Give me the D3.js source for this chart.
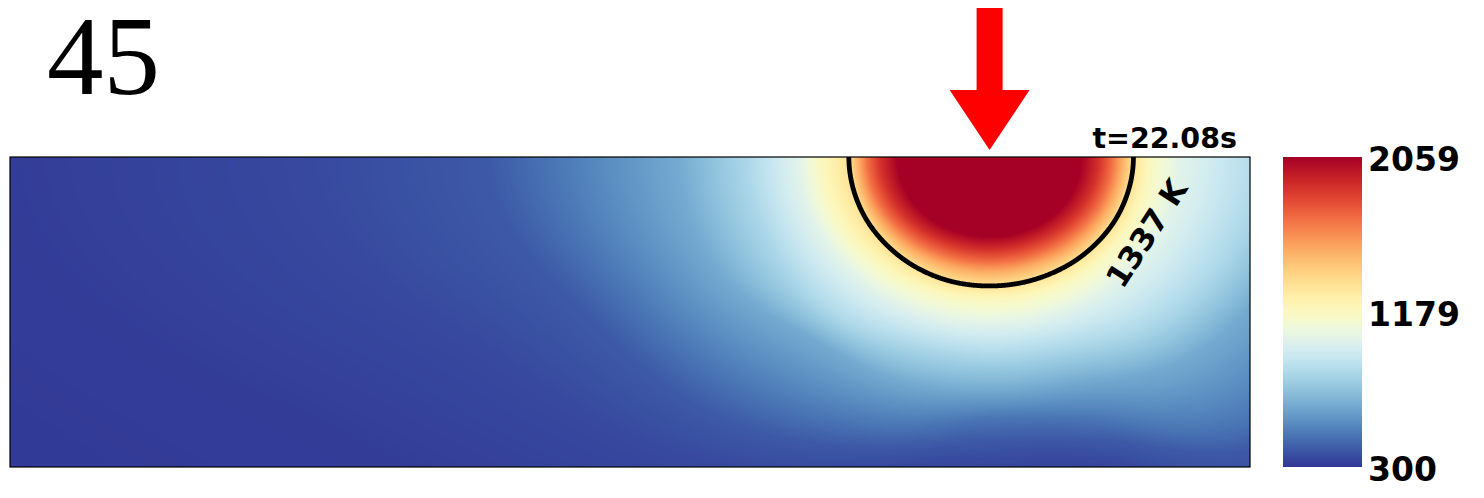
<!DOCTYPE html>
<html><head><meta charset="utf-8">
<script src="https://cdn.jsdelivr.net/npm/d3@7"></script>
<style>html,body{margin:0;padding:0;background:#fff;} svg{display:block}</style>
</head><body><svg id="chart" width="1484" height="498"></svg>
<script>
// ---------------- data ----------------
const frameLabel = "45";
const timeLabel = "t=22.08s";
const contourLevel = 1337;
const contourLabel = "1337 K";
const tempMin = 300, tempMax = 2059;
const colorbarTicks = [300, 1179, 2059];
const colorbarTickLabels = ["300", "1179", "2059"];
const domainX = [0, 20];   // mm
const domainY = [0, 5];    // mm (depth)
const sourceX = 15.8;      // mm, heat source position
// temperature levels (K) and the distance (mm) from the source where each is reached,
// in nine directions (deg from +x, measured downward)
const levels     = [2059, 1883, 1707, 1531, 1337, 1180, 1030, 830, 650, 476, 400, 350, 320, 305];
const angles     = [0, 22.5, 45, 67.5, 90, 112.5, 135, 157.5, 180];
const radius0    = [1.48, 1.77, 1.97, 2.13, 2.32, 2.60, 3.05, 4.44, 5.32, 6.77, 7.74, 9.68, 12.9, 16.0];
const radius22   = [1.45, 1.72, 1.92, 2.08, 2.28, 2.55, 2.99, 4.17, 4.97, 6.40, 7.20, 8.80, 11.5, 15.0];
const radius45   = [1.38, 1.62, 1.81, 1.98, 2.19, 2.44, 2.85, 3.80, 4.55, 6.00, 6.50, 7.50, 9.50, 13.0];
const radius67   = [1.31, 1.53, 1.72, 1.88, 2.11, 2.35, 2.73, 3.33, 3.91, 4.60, 4.95, 5.35, 5.80, 6.60];
const radius90   = [1.29, 1.50, 1.69, 1.85, 2.08, 2.31, 2.68, 3.21, 3.76, 4.23, 4.56, 4.90, 5.30, 6.00];
const radius112  = [1.31, 1.53, 1.72, 1.88, 2.11, 2.36, 2.73, 3.29, 3.89, 4.70, 5.05, 5.45, 5.95, 6.80];
const radius135  = [1.38, 1.62, 1.81, 1.97, 2.17, 2.49, 2.85, 3.60, 4.10, 5.40, 6.00, 6.90, 8.50, 12.0];
const radius157  = [1.45, 1.72, 1.92, 2.07, 2.24, 2.65, 2.99, 3.79, 4.74, 6.20, 6.90, 8.60, 11.5, 17.0];
const radius180  = [1.48, 1.77, 1.97, 2.11, 2.27, 2.73, 3.06, 3.92, 5.00, 7.08, 8.06, 11.13, 15.8, 21.0];
const labelPos = [18.33, 1.23];  // mm
const labelAngle = -57;

// ---------------- layout ----------------
const svg = d3.select("#chart");
const plot = {left: 10, top: 157, width: 1240, height: 310};
const xS = d3.scaleLinear(domainX, [plot.left, plot.left + plot.width]);
const yS = d3.scaleLinear(domainY, [plot.top, plot.top + plot.height]);
const color = d3.scaleSequential(t => d3.interpolateRdYlBu(1 - t)).domain([tempMin, tempMax]);

// colour lookup table
const LUT_N = 2048;
const lut = d3.range(LUT_N).map(k => d3.rgb(color(tempMin + k / (LUT_N - 1) * (tempMax - tempMin))));
const lutIndex = d3.scaleLinear([tempMin, tempMax], [0, LUT_N - 1]).clamp(true);

// radius of every level as smooth function of direction (Catmull-Rom, mirrored at the surface)
const radiusSets = [radius0, radius22, radius45, radius67, radius90, radius112, radius135, radius157, radius180];
const angleStep = angles[1] - angles[0];
function radiusAt(i, th) {
  const n = angles.length;
  const get = j => radiusSets[j < 0 ? -j : (j > n - 1 ? 2 * (n - 1) - j : j)][i];
  const s = Math.min(n - 2, Math.floor(th / angleStep));
  const t = th / angleStep - s;
  const p0 = get(s - 1), p1 = get(s), p2 = get(s + 1), p3 = get(s + 2);
  return 0.5 * (2 * p1 + (-p0 + p2) * t + (2 * p0 - 5 * p1 + 4 * p2 - p3) * t * t + (-p0 + 3 * p1 - 3 * p2 + p3) * t * t * t);
}
const STEP = 4; // per degree
const dirScales = d3.range(0, 180 * STEP + 1).map(k => {
  const th = k / STEP;
  const radii = levels.map((_, i) => radiusAt(i, th));
  for (let i = 1; i < radii.length; i++) radii[i] = Math.max(radii[i], radii[i - 1] + 1e-4);
  return d3.scaleLinear(radii, levels).clamp(true);
});
function tempAt(X, Y) {
  const dx = X - sourceX;
  const r = Math.hypot(dx, Y);
  const th = Math.atan2(Y, dx) * 180 / Math.PI;
  const k = Math.max(0, Math.min(180 * STEP, Math.round(th * STEP)));
  return dirScales[k](r);
}

// ---------------- field ----------------
const cv = document.createElement("canvas");
cv.width = plot.width; cv.height = plot.height;
const ctx = cv.getContext("2d");
const img = ctx.createImageData(plot.width, plot.height);
for (let py = 0; py < plot.height; py++) {
  const Y = yS.invert(plot.top + py + 0.5);
  for (let px = 0; px < plot.width; px++) {
    const X = xS.invert(plot.left + px + 0.5);
    const c = lut[Math.round(lutIndex(tempAt(X, Y)))];
    const o = (py * plot.width + px) * 4;
    img.data[o] = c.r; img.data[o + 1] = c.g; img.data[o + 2] = c.b; img.data[o + 3] = 255;
  }
}
ctx.putImageData(img, 0, 0);
svg.append("image").attr("x", plot.left).attr("y", plot.top)
  .attr("width", plot.width).attr("height", plot.height)
  .attr("preserveAspectRatio", "none")
  .attr("href", cv.toDataURL());

svg.append("clipPath").attr("id", "clip").append("rect")
  .attr("x", plot.left).attr("y", plot.top).attr("width", plot.width).attr("height", plot.height);

// contour 1337 K
const contourPts = d3.range(0, 180 * STEP + 1).map(k => {
  const th = k / STEP, r = dirScales[k].invert(contourLevel);
  const a = th * Math.PI / 180;
  return [sourceX + r * Math.cos(a), r * Math.sin(a)];
});
svg.append("path").attr("clip-path", "url(#clip)")
  .attr("d", d3.line().x(d => xS(d[0])).y(d => yS(d[1]))(contourPts))
  .attr("fill", "none").attr("stroke", "#000").attr("stroke-width", 4.8);

svg.append("text")
  .attr("transform", `translate(${xS(labelPos[0])},${yS(labelPos[1])}) rotate(${labelAngle})`)
  .attr("text-anchor", "middle").attr("dominant-baseline", "central")
  .attr("font-family", "DejaVu Sans").attr("font-weight", "bold").attr("font-size", 31)
  .text(contourLabel);

// frame
svg.append("rect").attr("x", plot.left).attr("y", plot.top)
  .attr("width", plot.width).attr("height", plot.height)
  .attr("fill", "none").attr("stroke", "#000").attr("stroke-width", 1.2);

// time label
svg.append("text").attr("x", 1237).attr("y", 148).attr("text-anchor", "end")
  .attr("font-family", "DejaVu Sans").attr("font-weight", "bold").attr("font-size", 28.5)
  .text(timeLabel);

// frame number
svg.append("text").attr("x", 47).attr("y", 94)
  .attr("font-family", "Liberation Serif").attr("font-size", 113)
  .text(frameLabel);

// red arrow at source
const ax = xS(sourceX);
const arrow = [[ax - 13, 8], [ax + 13, 8], [ax + 13, 90], [ax + 40, 90], [ax, 150], [ax - 40, 90], [ax - 13, 90]];
svg.append("path").attr("d", d3.line()(arrow) + "Z").attr("fill", "#ff0000");

// colorbar
const cb = {left: 1283, width: 79, top: 157, height: 310};
const cS = d3.scaleLinear([tempMin, tempMax], [cb.top + cb.height, cb.top]);
const cbCanvas = document.createElement("canvas");
cbCanvas.width = 1; cbCanvas.height = cb.height;
const cbCtx = cbCanvas.getContext("2d");
const cbImg = cbCtx.createImageData(1, cb.height);
for (let py = 0; py < cb.height; py++) {
  const c = lut[Math.round(lutIndex(cS.invert(cb.top + py + 0.5)))];
  cbImg.data[py * 4] = c.r; cbImg.data[py * 4 + 1] = c.g; cbImg.data[py * 4 + 2] = c.b; cbImg.data[py * 4 + 3] = 255;
}
cbCtx.putImageData(cbImg, 0, 0);
svg.append("image").attr("x", cb.left).attr("y", cb.top)
  .attr("width", cb.width).attr("height", cb.height)
  .attr("preserveAspectRatio", "none").attr("href", cbCanvas.toDataURL());

const cAxis = svg.append("g").attr("transform", `translate(${cb.left + cb.width},0)`)
  .call(d3.axisRight(cS).tickValues(colorbarTicks).tickSize(0).tickPadding(6)
    .tickFormat((d, i) => colorbarTickLabels[i]));
cAxis.select(".domain").remove();
cAxis.selectAll("text").attr("font-family", "DejaVu Sans").attr("font-weight", "bold")
  .attr("font-size", 33).attr("fill", "#000").attr("dy", "0.38em")
  .attr("transform", "translate(0,1)");
</script></body></html>
